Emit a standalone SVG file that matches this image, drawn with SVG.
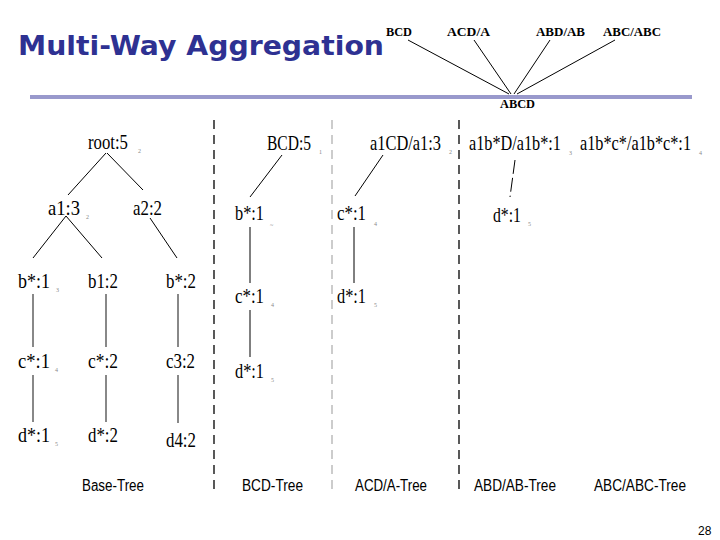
<svg xmlns="http://www.w3.org/2000/svg" width="720" height="540" viewBox="0 0 720 540">
<style>
.title{font-family:"DejaVu Sans","Liberation Sans",sans-serif;font-weight:bold;font-size:27px;fill:#2e3192}
.lat{font-family:"Liberation Serif",serif;font-weight:bold;font-size:12px;fill:#000}
.n{font-family:"Liberation Serif",serif;font-size:17px;fill:#000}
.s{font-family:"Liberation Serif",serif;font-size:6px;fill:#888}
.lbl{font-family:"Liberation Sans",sans-serif;font-size:16px;fill:#000}
.thin{stroke:#000;stroke-width:1;fill:none}
.gray{stroke:#888;stroke-width:2;fill:none}
.dash{stroke:#000;stroke-width:1.3;stroke-dasharray:9 6;fill:none}
.dashl{stroke:#999;stroke-width:1;stroke-dasharray:9 6;fill:none}
</style>
<rect width="720" height="540" fill="#fff"/>
<text class="title" x="18" y="55" textLength="366" lengthAdjust="spacingAndGlyphs">Multi-Way Aggregation</text>
<rect x="30" y="95" width="662" height="4" fill="#9999cc"/>

<g id="lattice">
<text class="lat" x="386" y="36" textLength="26" lengthAdjust="spacingAndGlyphs">BCD</text>
<text class="lat" x="447" y="36" textLength="43" lengthAdjust="spacingAndGlyphs">ACD/A</text>
<text class="lat" x="536" y="36" textLength="49" lengthAdjust="spacingAndGlyphs">ABD/AB</text>
<text class="lat" x="603" y="36" textLength="58" lengthAdjust="spacingAndGlyphs">ABC/ABC</text>
<text class="lat" x="500" y="108" textLength="35" lengthAdjust="spacingAndGlyphs">ABCD</text>
<line class="thin" x1="408" y1="40" x2="509" y2="94"/>
<line class="thin" x1="474" y1="40" x2="511" y2="94"/>
<line class="thin" x1="550" y1="40" x2="514" y2="94"/>
<line class="thin" x1="615" y1="40" x2="517" y2="94"/>
</g>

<g id="separators">
<line class="dash" x1="214" y1="120" x2="214" y2="494"/>
<line class="dashl" x1="332" y1="120" x2="332" y2="494"/>
<line class="dash" x1="459" y1="120" x2="459" y2="494"/>
</g>

<g id="connectors">
<line class="thin" x1="106" y1="153" x2="68" y2="195"/>
<line class="thin" x1="107" y1="153" x2="143" y2="190"/>
<line class="thin" x1="66" y1="216" x2="33" y2="258"/>
<line class="thin" x1="66" y1="216" x2="102" y2="258"/>
<line class="thin" x1="150" y1="218" x2="177" y2="258"/>
<line class="gray" x1="33" y1="294" x2="33" y2="347"/>
<line class="gray" x1="33" y1="375" x2="33" y2="422"/>
<line class="gray" x1="106" y1="294" x2="106" y2="347"/>
<line class="gray" x1="106" y1="375" x2="106" y2="422"/>
<line class="gray" x1="178" y1="294" x2="178" y2="347"/>
<line class="gray" x1="178" y1="375" x2="178" y2="423"/>
<line class="thin" x1="282" y1="155" x2="250" y2="197"/>
<line class="thin" x1="250" y1="227" x2="250" y2="283"/>
<line class="thin" x1="250" y1="310" x2="250" y2="357"/>
<line class="thin" x1="383" y1="155" x2="355" y2="196"/>
<line class="thin" x1="354" y1="227" x2="354" y2="283"/>
<line class="thin" x1="515" y1="160" x2="510" y2="197" stroke-dasharray="14 4"/>
</g>

<g id="base-tree">
<text class="n" transform="translate(88,149) scale(1,1.28)" textLength="40" lengthAdjust="spacingAndGlyphs">root:5</text><text class="s" x="138" y="153">2</text>
<text class="n" transform="translate(48,215) scale(1,1.28)" textLength="32" lengthAdjust="spacingAndGlyphs">a1:3</text><text class="s" x="86" y="219">2</text>
<text class="n" transform="translate(133,215) scale(1,1.28)" textLength="29" lengthAdjust="spacingAndGlyphs">a2:2</text>
<text class="n" transform="translate(18,288) scale(1,1.28)" textLength="32" lengthAdjust="spacingAndGlyphs">b*:1</text><text class="s" x="56" y="292">3</text>
<text class="n" transform="translate(88,288) scale(1,1.28)" textLength="30" lengthAdjust="spacingAndGlyphs">b1:2</text>
<text class="n" transform="translate(166,288) scale(1,1.28)" textLength="30" lengthAdjust="spacingAndGlyphs">b*:2</text>
<text class="n" transform="translate(18,368) scale(1,1.28)" textLength="32" lengthAdjust="spacingAndGlyphs">c*:1</text><text class="s" x="55" y="372">4</text>
<text class="n" transform="translate(88,368) scale(1,1.28)" textLength="30" lengthAdjust="spacingAndGlyphs">c*:2</text>
<text class="n" transform="translate(166,368) scale(1,1.28)" textLength="29" lengthAdjust="spacingAndGlyphs">c3:2</text>
<text class="n" transform="translate(18,442) scale(1,1.28)" textLength="32" lengthAdjust="spacingAndGlyphs">d*:1</text><text class="s" x="55" y="446">5</text>
<text class="n" transform="translate(88,442) scale(1,1.28)" textLength="30" lengthAdjust="spacingAndGlyphs">d*:2</text>
<text class="n" transform="translate(166,447) scale(1,1.28)" textLength="30" lengthAdjust="spacingAndGlyphs">d4:2</text>
<text class="lbl" x="82" y="491" textLength="62" lengthAdjust="spacingAndGlyphs">Base-Tree</text>
</g>

<g id="bcd-tree">
<text class="n" transform="translate(267,150) scale(1,1.28)" textLength="44" lengthAdjust="spacingAndGlyphs">BCD:5</text><text class="s" x="319" y="154">1</text>
<text class="n" transform="translate(235,220) scale(1,1.28)" textLength="29" lengthAdjust="spacingAndGlyphs">b*:1</text><text class="s" x="270" y="227">~</text>
<text class="n" transform="translate(235,303) scale(1,1.28)" textLength="29" lengthAdjust="spacingAndGlyphs">c*:1</text><text class="s" x="271" y="307">4</text>
<text class="n" transform="translate(235,378) scale(1,1.28)" textLength="29" lengthAdjust="spacingAndGlyphs">d*:1</text><text class="s" x="271" y="382">5</text>
<text class="lbl" x="242" y="491" textLength="61" lengthAdjust="spacingAndGlyphs">BCD-Tree</text>
</g>

<g id="acd-tree">
<text class="n" transform="translate(370,150) scale(1,1.28)" textLength="71" lengthAdjust="spacingAndGlyphs">a1CD/a1:3</text><text class="s" x="449" y="154">2</text>
<text class="n" transform="translate(337,220) scale(1,1.28)" textLength="29" lengthAdjust="spacingAndGlyphs">c*:1</text><text class="s" x="374" y="226">4</text>
<text class="n" transform="translate(337,303) scale(1,1.28)" textLength="29" lengthAdjust="spacingAndGlyphs">d*:1</text><text class="s" x="374" y="307">5</text>
<text class="lbl" x="355" y="491" textLength="72" lengthAdjust="spacingAndGlyphs">ACD/A-Tree</text>
</g>

<g id="abd-tree">
<text class="n" transform="translate(469,150) scale(1,1.28)" textLength="92" lengthAdjust="spacingAndGlyphs">a1b*D/a1b*:1</text><text class="s" x="569" y="155">3</text>
<text class="n" transform="translate(493,222) scale(1,1.28)" textLength="28" lengthAdjust="spacingAndGlyphs">d*:1</text><text class="s" x="528" y="226">5</text>
<text class="lbl" x="474" y="491" textLength="82" lengthAdjust="spacingAndGlyphs">ABD/AB-Tree</text>
</g>

<g id="abc-tree">
<text class="n" transform="translate(580,150) scale(1,1.28)" textLength="111" lengthAdjust="spacingAndGlyphs">a1b*c*/a1b*c*:1</text><text class="s" x="699" y="155">4</text>
<text class="lbl" x="594" y="491" textLength="92" lengthAdjust="spacingAndGlyphs">ABC/ABC-Tree</text>
</g>

<text x="698" y="535" font-family="Liberation Sans, sans-serif" font-size="12" fill="#000">28</text>
</svg>
